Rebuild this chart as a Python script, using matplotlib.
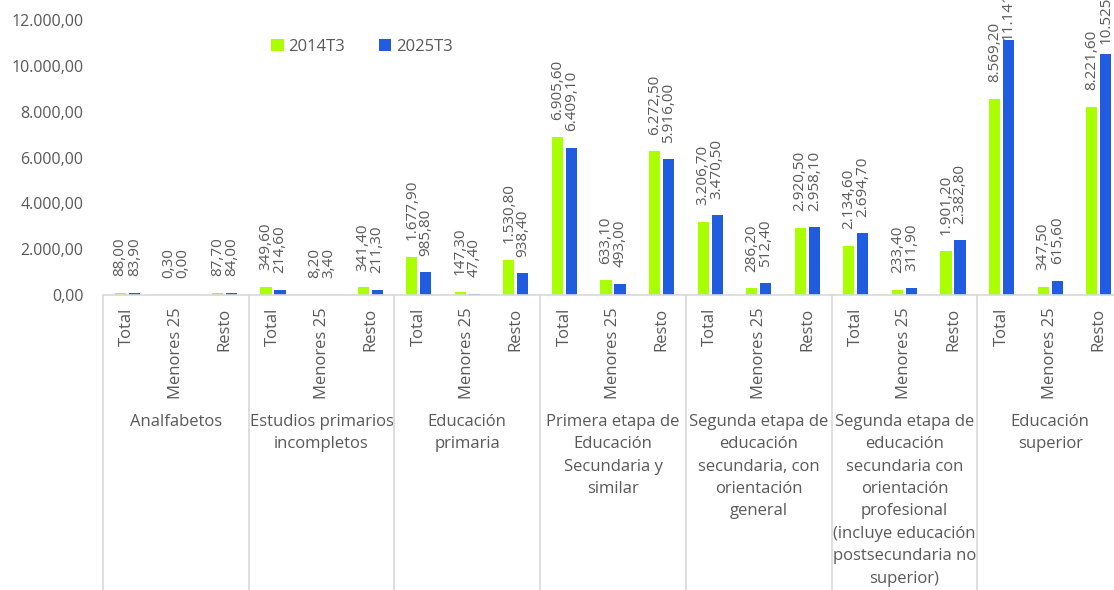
import matplotlib
matplotlib.use("Agg")
import matplotlib.pyplot as plt
import matplotlib.transforms as mtransforms
from matplotlib.lines import Line2D
import numpy as np

plt.rcParams['font.family'] = ['Open Sans', 'DejaVu Sans']

groups = [
    "Analfabetos",
    "Estudios primarios\nincompletos",
    "Educación\nprimaria",
    "Primera etapa de\nEducación\nSecundaria y\nsimilar",
    "Segunda etapa de\neducación\nsecundaria, con\norientación\ngeneral",
    "Segunda etapa de\neducación\nsecundaria con\norientación\nprofesional\n(incluye educación\npostsecundaria no\nsuperior)",
    "Educación\nsuperior",
]
subcats = ["Total", "Menores 25", "Resto"]
series_names = ["2014T3", "2025T3"]

v2014 = [88.00, 0.30, 87.70,
         349.60, 8.20, 341.40,
         1677.90, 147.30, 1530.80,
         6905.60, 633.10, 6272.50,
         3206.70, 286.20, 2920.50,
         2134.60, 233.40, 1901.20,
         8569.20, 347.50, 8221.60]
v2025 = [83.90, 0.00, 84.00,
         214.60, 3.40, 211.30,
         985.80, 47.40, 938.40,
         6409.10, 493.00, 5916.00,
         3470.50, 512.40, 2958.10,
         2694.70, 311.90, 2382.80,
         11141.20, 615.60, 10525.60]
yticks = [0, 2000, 4000, 6000, 8000, 10000, 12000]

GREEN = "#aaff00"
BLUE = "#205be0"
TXT = "#595959"
LINE = "#d9d9d9"

def fmt(v):
    s = f"{v:,.2f}"
    return s.replace(",", "X").replace(".", ",").replace("X", ".")

W, H = 1114, 590
fig = plt.figure(figsize=(W / 100, H / 100), dpi=100)
ax = fig.add_axes([103 / W, 1 - 295 / H, 1020 / W, 275 / H])

n = len(v2014)
x = np.arange(n)
bw = 0.23
off = 0.145
ax.bar(x - off, v2014, bw, color=GREEN, label=series_names[0])
ax.bar(x + off, v2025, bw, color=BLUE, label=series_names[1])

ymax = yticks[-1]
for xs, vals in ((x - off, v2014), (x + off, v2025)):
    for xi, v in zip(xs, vals):
        # labels near the top of the scale are pulled down (as the source does)
        dy = 12 if v < 0.85 * ymax else (7 if v < 0.9 * ymax else 0)
        ax.annotate(fmt(v), (xi, v), xytext=(0, dy), textcoords="offset points",
                    rotation=90, ha="center", va="bottom", fontsize=11,
                    color=TXT, annotation_clip=False)

ax.set_xlim(-0.5, n - 0.5)
ax.set_ylim(0, ymax)
ax.set_yticks(yticks)
ax.set_yticklabels([fmt(v) for v in yticks])
ax.tick_params(axis="y", length=0, pad=14, labelsize=11.5, labelcolor=TXT)

ax.set_xticks(x)
ax.set_xticklabels([subcats[i % 3] for i in range(n)], rotation=90, va="top")
ax.tick_params(axis="x", length=0, pad=9, labelsize=12, labelcolor=TXT)

for s in ("top", "right", "left"):
    ax.spines[s].set_visible(False)
ax.spines["bottom"].set_color(LINE)
ax.spines["bottom"].set_linewidth(1.2)

trans = mtransforms.blended_transform_factory(ax.transData, fig.transFigure)
for k in range(len(groups) + 1):
    xb = 3 * k - 0.5
    fig.add_artist(Line2D([xb, xb], [0, 1 - 295 / H], transform=trans,
                          color=LINE, lw=1.2))
for k, g in enumerate(groups):
    fig.text(3 * k + 1, 1 - 414 / H, g, transform=trans, ha="center", va="top",
             fontsize=12, color=TXT, linespacing=1.53)

ax.legend(loc="center", bbox_to_anchor=(362 / W, 1 - 47 / H),
          bbox_transform=fig.transFigure, ncol=2, frameon=False,
          fontsize=12, labelcolor=TXT, handlelength=0.75, handleheight=0.75,
          columnspacing=2.0, handletextpad=0.3)

fig.savefig("out.png", dpi=100)
